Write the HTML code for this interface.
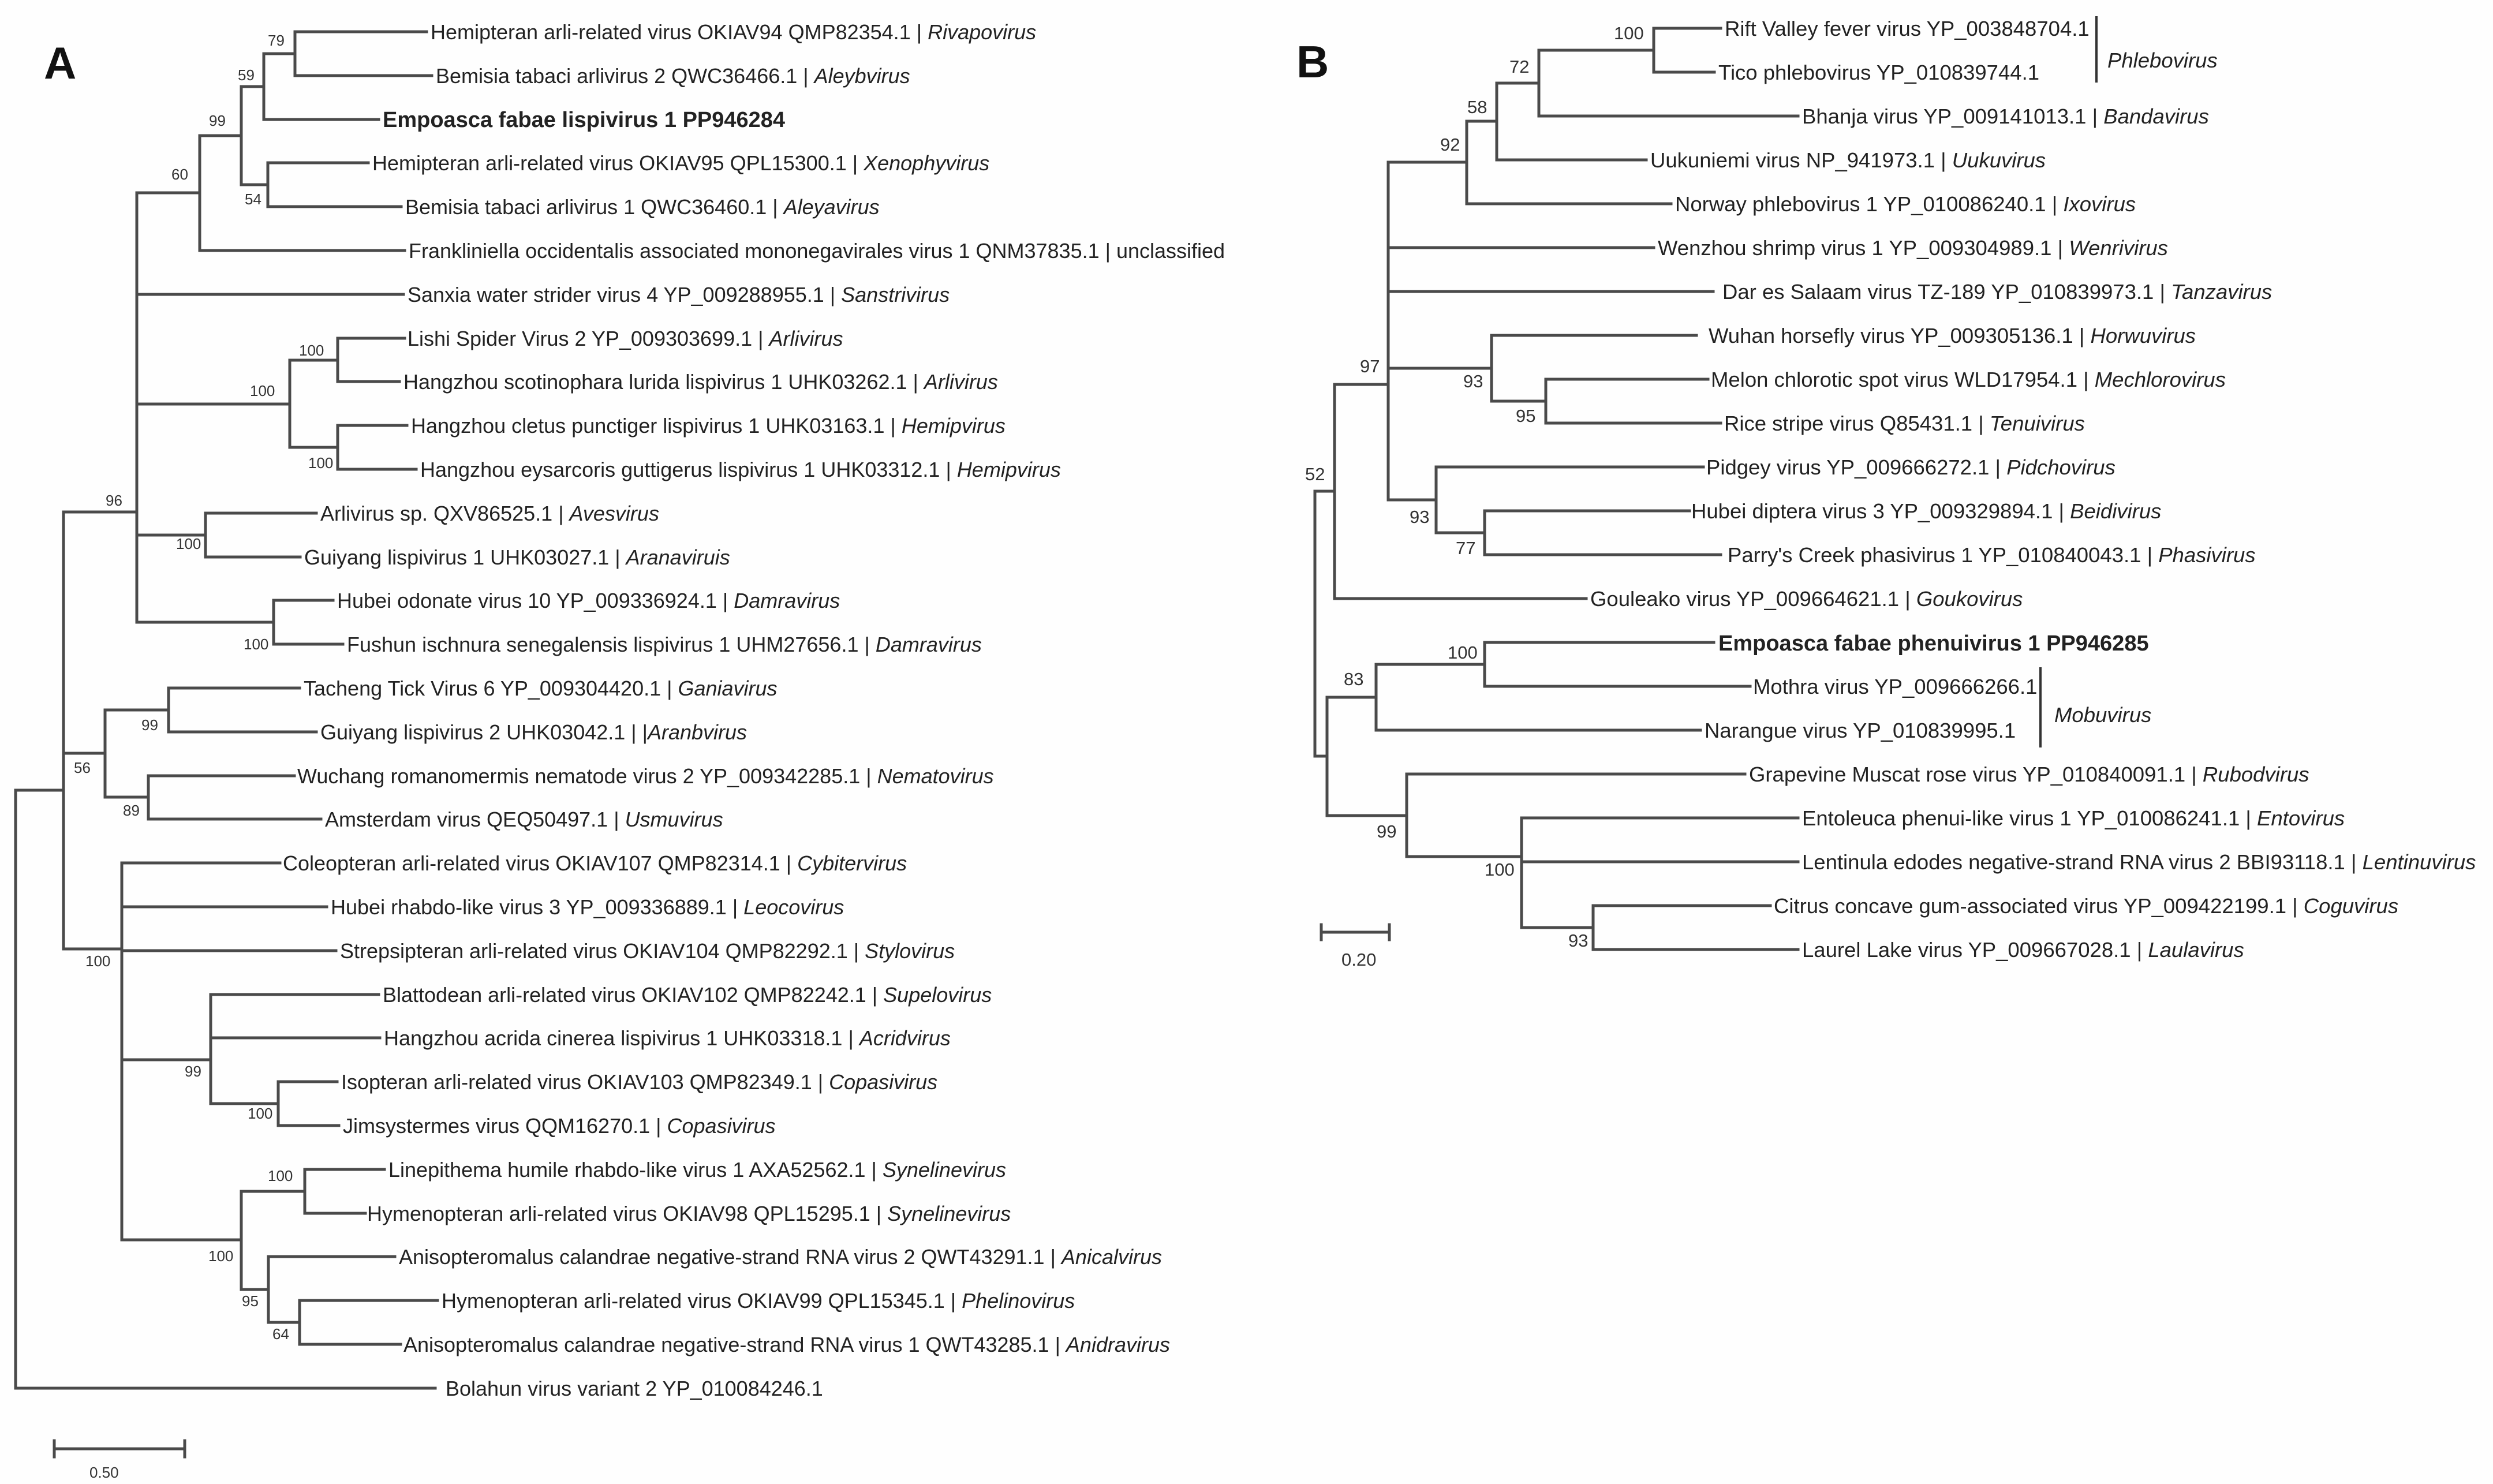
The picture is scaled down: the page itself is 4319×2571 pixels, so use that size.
<!DOCTYPE html>
<html><head><meta charset="utf-8"><style>
html,body{margin:0;padding:0;background:#fff;}
svg{display:block;}
.t{font-family:"Liberation Sans",Arial,sans-serif;font-size:36px;fill:#222;}
.tb{font-family:"Liberation Sans",Arial,sans-serif;font-size:36.5px;fill:#222;}
.b{font-weight:bold;}
.l{font-family:"Liberation Sans",Arial,sans-serif;font-size:26px;fill:#333;}
.lb{font-family:"Liberation Sans",Arial,sans-serif;font-size:31px;fill:#333;}
.P{font-family:"Liberation Sans",Arial,sans-serif;font-weight:bold;font-size:78px;fill:#111;}
</style></head><body>
<svg width="4319" height="2571" viewBox="0 0 4319 2571" xmlns="http://www.w3.org/2000/svg">
<rect width="4319" height="2571" fill="#fefefe"/>
<text class="P" x="76" y="136">A</text>
<text class="P" x="2246" y="134">B</text>
<g stroke="#4a4a4a" stroke-width="5" fill="none" stroke-linecap="square">
<path d="M511 55V131 M511 55H739 M511 131H748"/>
<path d="M457 93V207 M457 93H511 M457 207H656"/>
<path d="M464 282V358 M464 282H638 M464 358H695"/>
<path d="M418 150V320 M418 150H457 M418 320H464"/>
<path d="M346 235V434 M346 235H418 M346 434H701"/>
<path d="M585 586V661 M585 586H701 M585 661H692"/>
<path d="M585 737V813 M585 737H705 M585 813H721"/>
<path d="M502 624V775 M502 624H585 M502 775H585"/>
<path d="M356 889V965 M356 889H548 M356 965H520"/>
<path d="M474 1040V1116 M474 1040H577 M474 1116H594"/>
<path d="M237 334V1078 M237 334H346 M237 510H699 M237 700H502 M237 927H356 M237 1078H474"/>
<path d="M292 1192V1268 M292 1192H519 M292 1268H548"/>
<path d="M257 1344V1419 M257 1344H510 M257 1419H556"/>
<path d="M182 1230V1381 M182 1230H292 M182 1381H257"/>
<path d="M482 1874V1950 M482 1874H584 M482 1950H587"/>
<path d="M365 1723V1912 M365 1723H656 M365 1798H658 M365 1912H482"/>
<path d="M528 2026V2102 M528 2026H666 M528 2102H633"/>
<path d="M519 2253V2329 M519 2253H758 M519 2329H694"/>
<path d="M465 2177V2291 M465 2177H684 M465 2291H519"/>
<path d="M418 2064V2234 M418 2064H528 M418 2234H465"/>
<path d="M211 1495V2148 M211 1495H485 M211 1571H566 M211 1647H582 M211 1836H365 M211 2148H418"/>
<path d="M110 887V1644 M110 887H237 M110 1305H182 M110 1644H211"/>
<path d="M27 1369V2405 M27 1369H110 M27 2405H754"/>
<path d="M94 2510H320 M94 2496V2524 M320 2496V2524"/>
<path d="M2865 49V125 M2865 49H2981 M2865 125H2970"/>
<path d="M2666 87V201 M2666 87H2865 M2666 201H3115"/>
<path d="M2593 144V277 M2593 144H2666 M2593 277H2852"/>
<path d="M2541 210V353 M2541 210H2593 M2541 353H2895"/>
<path d="M2678 657V733 M2678 657H2959 M2678 733H2981"/>
<path d="M2584 581V695 M2584 581H2939 M2584 695H2678"/>
<path d="M2572 885V961 M2572 885H2927 M2572 961H2981"/>
<path d="M2488 809V923 M2488 809H2951 M2488 923H2572"/>
<path d="M2405 281V866 M2405 281H2541 M2405 429H2865 M2405 505H2968 M2405 638H2584 M2405 866H2488"/>
<path d="M2312 666V1037 M2312 666H2405 M2312 1037H2748"/>
<path d="M2572 1113V1189 M2572 1113H2969 M2572 1189H3032"/>
<path d="M2384 1151V1265 M2384 1151H2572 M2384 1265H2946"/>
<path d="M2760 1569V1645 M2760 1569H3067 M2760 1645H3115"/>
<path d="M2636 1417V1607 M2636 1417H3115 M2636 1493H3115 M2636 1607H2760"/>
<path d="M2437 1341V1484 M2437 1341H3023 M2437 1484H2636"/>
<path d="M2299 1208V1413 M2299 1208H2384 M2299 1413H2437"/>
<path d="M2278 851V1310 M2278 851H2312 M2278 1310H2299"/>
<path d="M2289 1615H2407 M2289 1602V1628 M2407 1602V1628"/>
</g>
<g stroke="#333" stroke-width="4">
<path d="M3632 28V143 M3535 1156V1295"/>
</g>
<g class="l">
<text x="464" y="79">79</text><text x="412" y="139">59</text><text x="362" y="218">99</text>
<text x="297" y="311">60</text><text x="424" y="354">54</text><text x="518" y="616">100</text>
<text x="433" y="686">100</text><text x="534" y="811">100</text><text x="183" y="876">96</text>
<text x="305" y="951">100</text><text x="422" y="1125">100</text><text x="245" y="1265">99</text>
<text x="128" y="1339">56</text><text x="213" y="1413">89</text><text x="148" y="1674">100</text>
<text x="320" y="1865">99</text><text x="429" y="1938">100</text><text x="464" y="2046">100</text>
<text x="361" y="2185">100</text><text x="419" y="2263">95</text><text x="472" y="2320">64</text>
<text x="155" y="2560">0.50</text>
</g>
<g class="lb">
<text x="2796" y="68">100</text><text x="2615" y="126">72</text><text x="2542" y="196">58</text>
<text x="2495" y="261">92</text><text x="2356" y="645">97</text><text x="2535" y="671">93</text>
<text x="2626" y="731">95</text><text x="2261" y="832">52</text><text x="2442" y="906">93</text>
<text x="2522" y="960">77</text><text x="2508" y="1141">100</text><text x="2328" y="1187">83</text>
<text x="2385" y="1451">99</text><text x="2572" y="1517">100</text><text x="2717" y="1640">93</text>
<text x="2324" y="1673">0.20</text>
</g>
<g class="t">
<text x="746" y="68">Hemipteran arli-related virus OKIAV94 QMP82354.1 | <tspan font-style="italic">Rivapovirus</tspan></text>
<text x="755" y="144">Bemisia tabaci arlivirus 2 QWC36466.1 | <tspan font-style="italic">Aleybvirus</tspan></text>
<text x="663" y="220" class="b" font-size="38">Empoasca fabae lispivirus 1 PP946284</text>
<text x="645" y="295">Hemipteran arli-related virus OKIAV95 QPL15300.1 | <tspan font-style="italic">Xenophyvirus</tspan></text>
<text x="702" y="371">Bemisia tabaci arlivirus 1 QWC36460.1 | <tspan font-style="italic">Aleyavirus</tspan></text>
<text x="708" y="447">Frankliniella occidentalis associated mononegavirales virus 1 QNM37835.1 | unclassified</text>
<text x="706" y="523">Sanxia water strider virus 4 YP_009288955.1 | <tspan font-style="italic">Sanstrivirus</tspan></text>
<text x="706" y="599">Lishi Spider Virus 2 YP_009303699.1 | <tspan font-style="italic">Arlivirus</tspan></text>
<text x="699" y="674">Hangzhou scotinophara lurida lispivirus 1 UHK03262.1 | <tspan font-style="italic">Arlivirus</tspan></text>
<text x="712" y="750">Hangzhou cletus punctiger lispivirus 1 UHK03163.1 | <tspan font-style="italic">Hemipvirus</tspan></text>
<text x="728" y="826">Hangzhou eysarcoris guttigerus lispivirus 1 UHK03312.1 | <tspan font-style="italic">Hemipvirus</tspan></text>
<text x="555" y="902">Arlivirus sp. QXV86525.1 | <tspan font-style="italic">Avesvirus</tspan></text>
<text x="527" y="978">Guiyang lispivirus 1 UHK03027.1 | <tspan font-style="italic">Aranaviruis</tspan></text>
<text x="584" y="1053">Hubei odonate virus 10 YP_009336924.1 | <tspan font-style="italic">Damravirus</tspan></text>
<text x="601" y="1129">Fushun ischnura senegalensis lispivirus 1 UHM27656.1 | <tspan font-style="italic">Damravirus</tspan></text>
<text x="526" y="1205">Tacheng Tick Virus 6 YP_009304420.1 | <tspan font-style="italic">Ganiavirus</tspan></text>
<text x="555" y="1281">Guiyang lispivirus 2 UHK03042.1 | |<tspan font-style="italic">Aranbvirus</tspan></text>
<text x="515" y="1357">Wuchang romanomermis nematode virus 2 YP_009342285.1 | <tspan font-style="italic">Nematovirus</tspan></text>
<text x="563" y="1432">Amsterdam virus QEQ50497.1 | <tspan font-style="italic">Usmuvirus</tspan></text>
<text x="490" y="1508">Coleopteran arli-related virus OKIAV107 QMP82314.1 | <tspan font-style="italic">Cybitervirus</tspan></text>
<text x="573" y="1584">Hubei rhabdo-like virus 3 YP_009336889.1 | <tspan font-style="italic">Leocovirus</tspan></text>
<text x="589" y="1660">Strepsipteran arli-related virus OKIAV104 QMP82292.1 | <tspan font-style="italic">Stylovirus</tspan></text>
<text x="663" y="1736">Blattodean arli-related virus OKIAV102 QMP82242.1 | <tspan font-style="italic">Supelovirus</tspan></text>
<text x="665" y="1811">Hangzhou acrida cinerea lispivirus 1 UHK03318.1 | <tspan font-style="italic">Acridvirus</tspan></text>
<text x="591" y="1887">Isopteran arli-related virus OKIAV103 QMP82349.1 | <tspan font-style="italic">Copasivirus</tspan></text>
<text x="594" y="1963">Jimsystermes virus QQM16270.1 | <tspan font-style="italic">Copasivirus</tspan></text>
<text x="673" y="2039">Linepithema humile rhabdo-like virus 1 AXA52562.1 | <tspan font-style="italic">Synelinevirus</tspan></text>
<text x="636" y="2115">Hymenopteran arli-related virus OKIAV98 QPL15295.1 | <tspan font-style="italic">Synelinevirus</tspan></text>
<text x="691" y="2190">Anisopteromalus calandrae negative-strand RNA virus 2 QWT43291.1 | <tspan font-style="italic">Anicalvirus</tspan></text>
<text x="765" y="2266">Hymenopteran arli-related virus OKIAV99 QPL15345.1 | <tspan font-style="italic">Phelinovirus</tspan></text>
<text x="699" y="2342">Anisopteromalus calandrae negative-strand RNA virus 1 QWT43285.1 | <tspan font-style="italic">Anidravirus</tspan></text>
<text x="772" y="2418">Bolahun virus variant 2 YP_010084246.1</text>
</g>
<g class="tb">
<text x="2988" y="62">Rift Valley fever virus YP_003848704.1</text>
<text x="2977" y="138">Tico phlebovirus YP_010839744.1</text>
<text x="3122" y="214">Bhanja virus YP_009141013.1 | <tspan font-style="italic">Bandavirus</tspan></text>
<text x="2859" y="290">Uukuniemi virus NP_941973.1 | <tspan font-style="italic">Uukuvirus</tspan></text>
<text x="2902" y="366">Norway phlebovirus 1 YP_010086240.1 | <tspan font-style="italic">Ixovirus</tspan></text>
<text x="2872" y="442">Wenzhou shrimp virus 1 YP_009304989.1 | <tspan font-style="italic">Wenrivirus</tspan></text>
<text x="2984" y="518">Dar es Salaam virus TZ-189 YP_010839973.1 | <tspan font-style="italic">Tanzavirus</tspan></text>
<text x="2960" y="594">Wuhan horsefly virus YP_009305136.1 | <tspan font-style="italic">Horwuvirus</tspan></text>
<text x="2964" y="670">Melon chlorotic spot virus WLD17954.1 | <tspan font-style="italic">Mechlorovirus</tspan></text>
<text x="2987" y="746">Rice stripe virus Q85431.1 | <tspan font-style="italic">Tenuivirus</tspan></text>
<text x="2956" y="822">Pidgey virus YP_009666272.1 | <tspan font-style="italic">Pidchovirus</tspan></text>
<text x="2930" y="898">Hubei diptera virus 3 YP_009329894.1 | <tspan font-style="italic">Beidivirus</tspan></text>
<text x="2993" y="974">Parry's Creek phasivirus 1 YP_010840043.1 | <tspan font-style="italic">Phasivirus</tspan></text>
<text x="2755" y="1050">Gouleako virus YP_009664621.1 | <tspan font-style="italic">Goukovirus</tspan></text>
<text x="2977" y="1127" class="b" font-size="38">Empoasca fabae phenuivirus 1 PP946285</text>
<text x="3037" y="1202">Mothra virus YP_009666266.1</text>
<text x="2953" y="1278">Narangue virus YP_010839995.1</text>
<text x="3030" y="1354">Grapevine Muscat rose virus YP_010840091.1 | <tspan font-style="italic">Rubodvirus</tspan></text>
<text x="3122" y="1430">Entoleuca phenui-like virus 1 YP_010086241.1 | <tspan font-style="italic">Entovirus</tspan></text>
<text x="3122" y="1506">Lentinula edodes negative-strand RNA virus 2 BBI93118.1 | <tspan font-style="italic">Lentinuvirus</tspan></text>
<text x="3073" y="1582">Citrus concave gum-associated virus YP_009422199.1 | <tspan font-style="italic">Coguvirus</tspan></text>
<text x="3122" y="1658">Laurel Lake virus YP_009667028.1 | <tspan font-style="italic">Laulavirus</tspan></text>
<text x="3651" y="117" font-style="italic">Phlebovirus</text>
<text x="3559" y="1251" font-style="italic">Mobuvirus</text>
</g>
</svg>
</body></html>
